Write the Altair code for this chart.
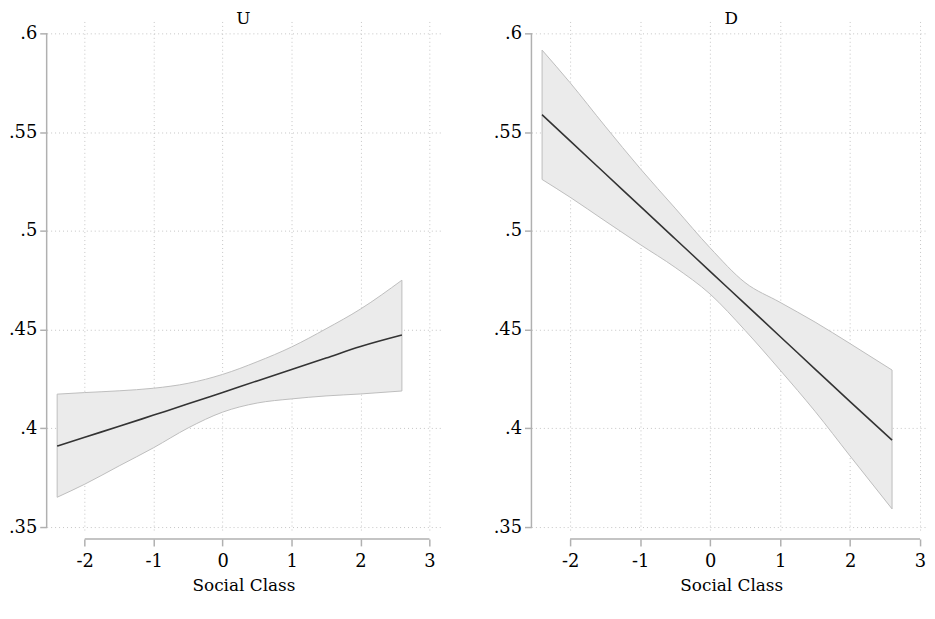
import altair as alt
import pandas as pd

# ---- data ----
x_vals = [-2.4, -2, -1.5, -1, -0.5, 0, 0.5, 1, 1.5, 2, 2.6]

u_fit = [0.391, 0.3955, 0.401, 0.4067, 0.4124, 0.4182, 0.424, 0.4298, 0.4356, 0.4414, 0.4472]
u_lo = [0.3651, 0.3717, 0.381, 0.3902, 0.4002, 0.4082, 0.4128, 0.4149, 0.4164, 0.4174, 0.4189]
u_hi = [0.4173, 0.4181, 0.419, 0.4203, 0.4228, 0.4273, 0.4337, 0.4412, 0.4504, 0.4604, 0.475]

d_fit = [0.5588, 0.5455, 0.529, 0.5125, 0.496, 0.4795, 0.463, 0.4465, 0.430, 0.4135, 0.394]
d_lo = [0.526, 0.517, 0.505, 0.4931, 0.4815, 0.468, 0.4496, 0.4295, 0.4086, 0.386, 0.3592]
d_hi = [0.5915, 0.575, 0.553, 0.5316, 0.5115, 0.4914, 0.4738, 0.4638, 0.4538, 0.4429, 0.4295]

panel_titles = ["U", "D"]
x_ticks = [-2, -1, 0, 1, 2, 3]
y_ticks = [0.35, 0.4, 0.45, 0.5, 0.55, 0.6]
x_title = "Social Class"

FONT = "DejaVu Serif"
AXIS_GRAY = "#b0b0b0"

x_scale = alt.Scale(domain=[-2.552, 3.156], nice=False, zero=False)
y_scale = alt.Scale(domain=[0.3475, 0.606], nice=False, zero=False)


def panel(title, fit, lo, hi, width):
    df = pd.DataFrame({"x": x_vals, "fit": fit, "lo": lo, "hi": hi})
    base = alt.Chart(df)
    x_axis = alt.Axis(
        values=x_ticks, title=x_title, labelExpr="'' + datum.value",
        domain=False, offset=7, tickSize=7, tickColor=AXIS_GRAY, tickWidth=1.5,
        grid=True, gridDash=[1, 3], gridColor="#c4c4c4",
        labelPadding=7, titlePadding=7,
    )
    y_axis = alt.Axis(
        values=y_ticks, title="",
        labelExpr="substring(format(datum.value, '.2~f'), 1)",
        domain=False, tickSize=7, tickColor=AXIS_GRAY, tickWidth=1.5,
        grid=True, gridDash=[1, 3], gridColor="#c4c4c4",
        labelPadding=3,
    )
    band = base.mark_area(
        fill="#ebebeb", stroke="#bdbdbd", strokeWidth=1, interpolate="monotone"
    ).encode(
        x=alt.X("x:Q", scale=x_scale, axis=x_axis),
        y=alt.Y("lo:Q", scale=y_scale, axis=y_axis),
        y2="hi:Q",
    )
    line = base.mark_line(color="#333333", strokeWidth=1.6, interpolate="monotone").encode(
        x="x:Q", y="fit:Q"
    )
    y_line = alt.Chart().mark_rule(color=AXIS_GRAY, strokeWidth=1.5).encode(
        x=alt.datum(x_scale.domain[0]), y=alt.datum(y_ticks[0]), y2=alt.datum(y_ticks[-1])
    )
    x_line = alt.Chart().mark_rule(color=AXIS_GRAY, strokeWidth=1.5).encode(
        x=alt.datum(x_ticks[0]), x2=alt.datum(x_ticks[-1]), y=alt.datum(0.3440)
    )
    return alt.layer(band, line, y_line, x_line).properties(
        width=width, height=515,
        title=alt.TitleParams(title, font=FONT, fontSize=17, fontWeight="normal",
                              color="black", baseline="alphabetic", offset=-20),
    )


chart = alt.hconcat(
    panel(panel_titles[0], u_fit, u_lo, u_hi, 397),
    panel(panel_titles[1], d_fit, d_lo, d_hi, 403),
    spacing=92, bounds="flush",
).properties(
    padding={"left": 0, "top": 0, "right": -4, "bottom": 4}
).configure_view(strokeWidth=0).configure_axis(
    labelFont=FONT, labelFontSize=18, labelColor="black",
    titleFont=FONT, titleFontSize=17, titleFontWeight="normal", titleColor="black",
)

chart.save("out.html", embed_options={"renderer": "svg", "actions": False})
